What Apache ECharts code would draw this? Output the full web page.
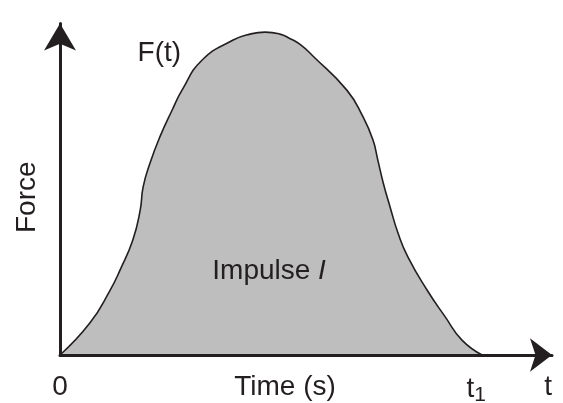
<!DOCTYPE html>
<html>
<head>
<meta charset="utf-8">
<script src="https://cdn.jsdelivr.net/npm/echarts@6/dist/echarts.min.js"></script>
<style>
  html, body { margin: 0; padding: 0; background: #ffffff; }
  #chart { width: 563px; height: 403px; }
</style>
</head>
<body>
<div id="chart"></div>
<script>
// Force pulse F(t) over time, in arbitrary units (both axes run 0..100)
const timeValues  = [0, 6.1, 10.2, 12.2, 14.8, 16.3, 16.9, 18.3, 20.3, 22.8, 24.8, 28.9, 35.2, 38.6, 41.7, 44.7, 46.7, 48.8, 51.4, 58.3, 61.6, 63.6, 64.6, 65.7, 67.1, 68.7, 70.7, 74.6, 78.3, 81.7, 85.8];
const forceValues = [0, 9.7, 19.6, 25.6, 34.7, 43.7, 50.7, 57.9, 65.8, 73.9, 79.9, 89.0, 95.0, 96.8, 97.4, 96.8, 95.5, 93.7, 90.2, 79.9, 71.8, 64.9, 58.8, 51.9, 44.6, 36.8, 29.6, 19.6, 11.5, 4.5, 0];

// Tick positions on the time axis: origin, end of the pulse, axis end
const T1 = 85.8;
const tickValues = [0, T1, 99.2];
const tickLabels = ['0', '{t|t}{sub|1}', 't'];

const FONT = 'Liberation Sans, Arial, Helvetica, sans-serif';
const INK = '#231f20';

const pulse = timeValues.map((t, i) => [t, forceValues[i]]);

const chart = echarts.init(document.getElementById('chart'), null, { renderer: 'canvas' });

chart.setOption({
  animation: false,
  backgroundColor: '#ffffff',
  grid: { left: 60, right: 11, top: 23.5, bottom: 48, containLabel: false, outerBoundsMode: 'none' },
  xAxis: {
    type: 'value',
    min: 0,
    max: 100,
    z: 10,
    name: 'Time (s)',
    nameLocation: 'middle',
    nameGap: 18,
    nameMoveOverlap: false,
    nameTextStyle: { fontFamily: FONT, fontSize: 28, color: INK, padding: [0, 42, 0, 0], verticalAlign: 'top' },
    axisLine: {
      show: true,
      symbol: ['none', 'arrow'],
      symbolSize: [25, 22],
      lineStyle: { color: INK, width: 3 }
    },
    axisTick: { show: false },
    splitLine: { show: false },
    axisLabel: {
      customValues: tickValues,
      margin: 18,
      fontFamily: FONT,
      fontSize: 28,
      color: INK,
      formatter: function (v) {
        const i = tickValues.indexOf(v);
        return i >= 0 ? tickLabels[i] : '';
      },
      rich: {
        t: { fontFamily: FONT, fontSize: 28, color: INK, padding: [0, 0, 0, 0] },
        sub: { fontFamily: FONT, fontSize: 21, color: INK, padding: [12, 12, 0, 0] }
      }
    }
  },
  yAxis: {
    type: 'value',
    min: 0,
    max: 100,
    z: 10,
    name: 'Force',
    nameLocation: 'middle',
    nameRotate: 90,
    nameGap: 19,
    nameTextStyle: { fontFamily: FONT, fontSize: 28, color: INK, padding: [0, 16, 0, 0] },
    axisLine: {
      show: true,
      symbol: ['none', 'arrow'],
      symbolSize: [24, 27],
      lineStyle: { color: INK, width: 3 }
    },
    axisTick: { show: false },
    axisLabel: { show: false },
    splitLine: { show: false }
  },
  series: [
    {
      type: 'line',
      data: pulse,
      smooth: 0.5,
      showSymbol: false,
      symbol: 'none',
      lineStyle: { color: INK, width: 1.6 },
      areaStyle: { color: '#bebebe', opacity: 1 },
      markPoint: {
        silent: true,
        symbol: 'rect',
        symbolSize: 0,
        data: [
          {
            coord: [20.2, 91],
            label: { show: true, formatter: 'F(t)', fontFamily: FONT, fontSize: 28, color: INK, position: 'inside' }
          },
          {
            coord: [42.5, 25.3],
            label: {
              show: true,
              formatter: '{a|Impulse }{b|I}',
              position: 'inside',
              rich: {
                a: { fontFamily: FONT, fontSize: 28, color: INK },
                b: { fontFamily: FONT, fontSize: 28, color: INK, fontStyle: 'italic' }
              }
            }
          }
        ]
      }
    }
  ]
});
</script>
</body>
</html>
